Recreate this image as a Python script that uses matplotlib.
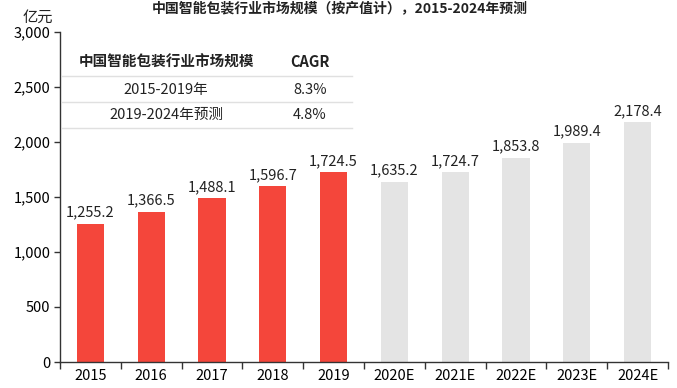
import matplotlib
matplotlib.use("Agg")
import matplotlib.pyplot as plt
from matplotlib.ticker import FuncFormatter, FixedLocator

categories = ["2015", "2016", "2017", "2018", "2019", "2020E", "2021E", "2022E", "2023E", "2024E"]
values = [1255.2, 1366.5, 1488.1, 1596.7, 1724.5, 1635.2, 1724.7, 1853.8, 1989.4, 2178.4]
is_forecast = [False] * 5 + [True] * 5
title = "中国智能包装行业市场规模（按产值计），2015-2024年预测"
unit = "亿元"
table_header = ["中国智能包装行业市场规模", "CAGR"]
table_rows = [["2015-2019年", "8.3%"], ["2019-2024年预测", "4.8%"]]

plt.rcParams['font.family'] = ['Noto Sans CJK SC', 'DejaVu Sans']

red = "#F4463B"
gray = "#E4E4E4"

fig = plt.figure(figsize=(6.77, 3.88), dpi=100)
ax = fig.add_axes([60/677, 1 - 362/388, 608/677, 330/388])

x = list(range(len(categories)))
colors = [gray if f else red for f in is_forecast]
ax.bar(x, values, width=0.45, color=colors, zorder=2)
for xi, v in zip(x, values):
    ax.text(xi, v + 40, f"{v:,.1f}", ha="center", va="bottom", fontsize=10.5, color="#222222")

ax.set_xlim(-0.5, len(categories) - 0.5)
ax.set_ylim(0, 3000)
ax.set_yticks([0, 500, 1000, 1500, 2000, 2500, 3000])
ax.yaxis.set_major_formatter(FuncFormatter(lambda v, p: f"{v:,.0f}"))
ax.set_xticks(x)
ax.set_xticklabels(categories)
ax.xaxis.set_minor_locator(FixedLocator([i - 0.5 for i in range(len(categories) + 1)]))
ax.tick_params(axis="x", which="major", length=0, pad=5, labelsize=10.5)
ax.tick_params(axis="x", which="minor", length=5, width=1, direction="out", color="#333333")
ax.tick_params(axis="y", length=4, width=1, direction="out", labelsize=10.5, pad=3, color="#333333")
for s in ["top", "right"]:
    ax.spines[s].set_visible(False)
for s in ["left", "bottom"]:
    ax.spines[s].set_color("#333333")
    ax.spines[s].set_linewidth(1)

fig.text(340/677, 1 - 8/388, title, ha="center", va="center", fontsize=10, fontweight="bold", color="#222222")
fig.text(38/677, 1 - 17/388, unit, ha="center", va="center", fontsize=11, color="#222222")

# table
def fx(px):
    return px / 677
def fy(py):
    return 1 - py / 388

fig.text(fx(166), fy(62), table_header[0], ha="center", va="center", fontsize=10.5, fontweight="bold", color="#222222")
fig.text(fx(310), fy(62), table_header[1], ha="center", va="center", fontsize=10.5, fontweight="bold", color="#222222")
row_y = [90, 115]
for (a, b), yy in zip(table_rows, row_y):
    fig.text(fx(166), fy(yy), a, ha="center", va="center", fontsize=10.5, color="#222222")
    fig.text(fx(310), fy(yy), b, ha="center", va="center", fontsize=10.5, color="#222222")
for ly in [76, 102, 128]:
    fig.add_artist(plt.Line2D([fx(62), fx(352)], [fy(ly), fy(ly)], color="#E0E0E0", linewidth=1))

fig.savefig("out.png", dpi=100)
